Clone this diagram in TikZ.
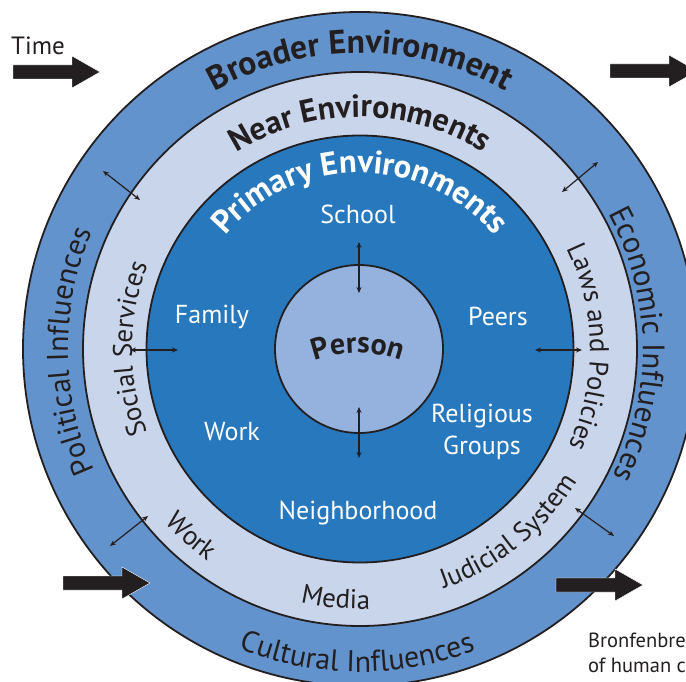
\documentclass[tikz,border=0pt]{standalone}
\usepackage{fontspec}
\setmainfont{PT Sans}
\usetikzlibrary{decorations.text,arrows.meta}
\definecolor{outerblue}{HTML}{6393CC}
\definecolor{nearblue}{HTML}{C9D5EB}
\definecolor{primblue}{HTML}{2878BE}
\definecolor{personblue}{HTML}{94B2DD}
\definecolor{ink}{HTML}{231F20}
\begin{document}
\begin{tikzpicture}[x=1pt,y=1pt,
 ring/.style={circle,draw=ink,line width=1.8pt,inner sep=0pt,outer sep=0pt},
 lbl/.style={text=white,font=\fontsize{26}{32}\selectfont,align=center},
 dbl/.style={draw=ink,line width=1.2pt,{Stealth[length=6pt,width=5pt]}-{Stealth[length=6pt,width=5pt]}},
 bigarrow/.pic={\fill[ink,draw=white,line width=0.4pt] (0,0)--(-28,16)--(-28,7)--(-87,7)--(-87,-7)--(-28,-7)--(-28,-16)--cycle;},
 curved/.style={decorate,decoration={text along path,text align=center,text={#1}}}
]
\useasboundingbox (0,0) rectangle (686,681);
\clip (0,0) rectangle (686,681);
\fill[white] (0,0) rectangle (686,681);
\coordinate (C) at (360,332);
\node[ring,fill=outerblue,minimum size=674pt] (broader) at (C) {};
\node[ring,fill=nearblue,minimum size=554pt] (near) at (C) {};
\node[ring,fill=primblue,minimum size=427pt] (primary) at (C) {};
\node[ring,fill=personblue,minimum size=168pt] (person) at (359,332) {};

% curved headings
\path[curved={|\fontsize{33.5}{33}\selectfont\bfseries\color{ink}|Broader Environment},shift={(C)}] (150:296) arc[start angle=150,end angle=30,radius=296];
\path[curved={|\fontsize{32}{32}\selectfont\bfseries\color{ink}|Near Environments},shift={(C)}] (150:232) arc[start angle=150,end angle=30,radius=232];
\path[curved={|\fontsize{32.5}{32}\selectfont\bfseries\color{white}|Primary Environments},shift={(C)}] (150:176) arc[start angle=150,end angle=30,radius=176];

% outer ring labels
\path[curved={|\fontsize{30}{30}\selectfont\color{ink}|Political Influences},shift={(C)}] (225.5:292) arc[start angle=225.5,end angle=135.5,radius=292];
\path[curved={|\fontsize{31}{31}\selectfont\color{ink}|Economic Influences},shift={(C)}] (46:283) arc[start angle=46,end angle=-44,radius=283];
\path[curved={|\fontsize{30}{30}\selectfont\color{ink}|Cultural Influences},shift={(C)}] (224.5:323) arc[start angle=224.5,end angle=314.5,radius=323];

% near ring labels
\path[curved={|\fontsize{27}{27}\selectfont\color{ink}|Social Services},shift={(C)}] (225:228) arc[start angle=225,end angle=135,radius=228];
\path[curved={|\fontsize{27}{27}\selectfont\color{ink}|Laws and Policies},shift={(C)}] (45.5:230) arc[start angle=45.5,end angle=-44.5,radius=230];
\path[curved={|\fontsize{27}{27}\selectfont\color{ink}|Work},shift={(C)}] (188:261) arc[start angle=188,end angle=268,radius=261];
\path[curved={|\fontsize{27}{27}\selectfont\color{ink}|Media},shift={(C)}] (224.5:260) arc[start angle=224.5,end angle=304.5,radius=260];
\path[curved={|\fontsize{27}{27}\selectfont\color{ink}|Judicial System},shift={(C)}] (269:254) arc[start angle=269,end angle=349,radius=254];

% person
\path[curved={|\fontsize{30}{30}\selectfont\bfseries\color{ink}|Person},shift={(358,203)}] (125:125) arc[start angle=125,end angle=55,radius=125];

% primary labels
\node[lbl] (school) at (358,467) {School};
\node[lbl] (family) at (212,364) {Family};
\node[lbl] (peers) at (498,365) {Peers};
\node[lbl] (work) at (232,249) {Work};
\node[lbl] (relig) at (482,249) {Religious\\Groups};
\node[lbl] (neigh) at (358,168) {Neighborhood};

% double arrows
\coordinate (a1) at (359,439); \coordinate (b1) at (359,388);
\coordinate (a2) at (359,274); \coordinate (b2) at (359,223);
\coordinate (a3) at (130,331); \coordinate (b3) at (178,331);
\coordinate (a4) at (535,331); \coordinate (b4) at (582,331);
\coordinate (a5) at (103,510); \coordinate (b5) at (140,481);
\coordinate (a6) at (562,489); \coordinate (b6) at (598,519);
\coordinate (a7) at (110,135); \coordinate (b7) at (148,165);
\coordinate (a8) at (575,173); \coordinate (b8) at (614,145);
\foreach \i in {1,...,8} {\draw[dbl] (a\i) -- (b\i);}

% big time arrows
\pic at (100,609) {bigarrow};
\pic at (697,610) {bigarrow};
\pic at (150,98) {bigarrow};
\pic at (643,96) {bigarrow};

\node[font=\fontsize{25}{25}\selectfont,text=ink] (time) at (38,635) {Time};
\node[font=\fontsize{20.5}{20}\selectfont,text=ink,anchor=base west,inner sep=0pt] (cap1) at (588,34) {Bronfenbre};
\node[font=\fontsize{20.5}{20}\selectfont,text=ink,anchor=base west,inner sep=0pt] (cap2) at (588,9) {of human c};
\end{tikzpicture}
\end{document}
